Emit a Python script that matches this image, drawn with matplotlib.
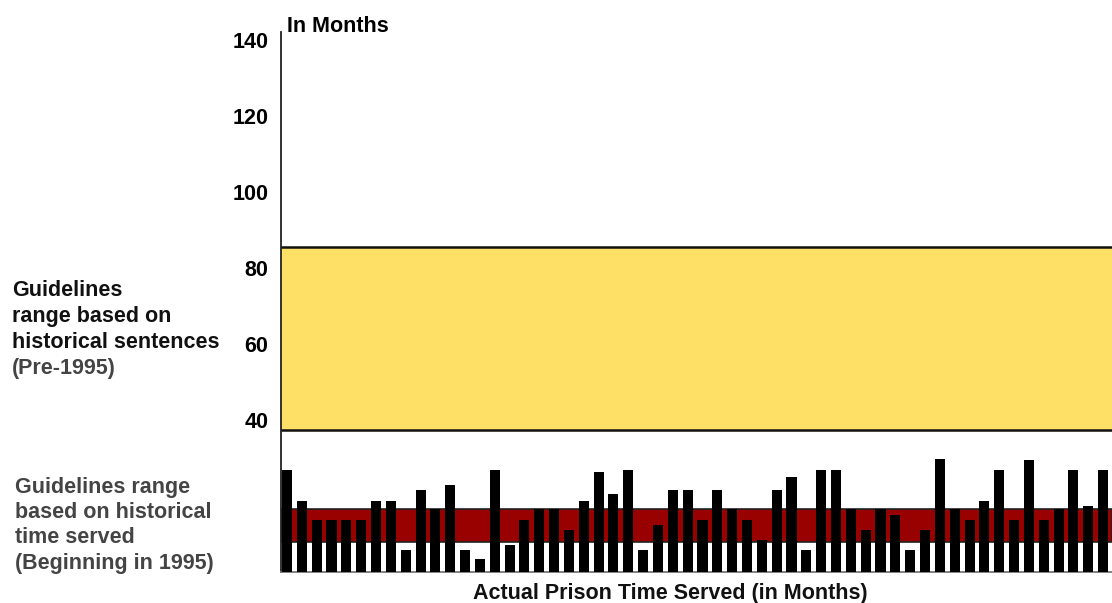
import numpy as np
import matplotlib.pyplot as plt

plt.rcParams['font.family'] = ['Liberation Sans', 'DejaVu Sans']

# time served per case (months)
served = [26.8, 18.8, 13.7, 13.7, 13.7, 13.7, 18.8, 18.8, 5.8, 21.6,
          16.6, 23.0, 5.8, 3.4, 26.8, 7.1, 13.7, 16.6, 16.6, 11.1,
          18.8, 26.4, 20.5, 26.8, 5.8, 12.4, 21.6, 21.6, 13.7, 21.6,
          16.6, 13.7, 8.4, 21.6, 25.1, 5.8, 26.8, 26.8, 16.6, 11.1,
          16.6, 15.0, 5.8, 11.1, 29.8, 16.6, 13.7, 18.8, 26.8, 13.7,
          29.5, 13.7, 16.6, 26.8, 17.4, 26.8]
sentence_range = [37.4, 85.5]   # pre-1995 guidelines
served_range = [7.9, 16.6]      # from 1995
yticks = [40, 60, 80, 100, 120, 140]
label_pre = ['Guidelines', 'range based on', 'historical sentences', '(Pre-1995)']
label_post = ['Guidelines range', 'based on historical', 'time served', '(Beginning in 1995)']

W, H = 1112, 603
fig = plt.figure(figsize=(W/100, H/100), dpi=100)
ax = fig.add_axes([281/W, 31/H, 831/W, (142*3.8)/H])

ax.axhspan(sentence_range[0], sentence_range[1], color='#FFE066', zorder=1)
ax.axhline(sentence_range[0], color='#111111', lw=1.8, zorder=2)
ax.axhline(sentence_range[1], color='#111111', lw=1.8, zorder=2)
ax.axhspan(served_range[0], served_range[1], facecolor='#990000',
           edgecolor='#222222', lw=1.2, zorder=1)

x = np.arange(len(served))
ax.bar(x, served, width=0.68, color='black', lw=0, zorder=3)

ax.set_xlim(-0.405, 55.6)
ax.set_ylim(0, 142)
ax.set_yticks(yticks)
ax.set_yticklabels([str(t) for t in yticks], fontsize=15.5, fontweight='bold')
ax.tick_params(axis='y', length=0, pad=9)
ax.set_xticks([])
for s in ['top', 'right']:
    ax.spines[s].set_visible(False)
ax.spines['left'].set_color('#222222')
ax.spines['left'].set_linewidth(1.3)
ax.spines['bottom'].set_color('#777777')
ax.spines['bottom'].set_linewidth(1.3)

fig.text(287/W, 1 - 26/H, 'In Months', fontsize=15.5, fontweight='bold',
         va='center', ha='left')
fig.text(670/W, 1 - 593/H, 'Actual Prison Time Served (in Months)',
         fontsize=15.5, fontweight='bold', va='center', ha='center', color='#111111')

# left side notes, one line at a time
for i, line in enumerate(label_pre):
    c = '#444444' if i == 3 else '#111111'
    fig.text(12/W, 1 - (296.5 + 25.7*i)/H, line, fontsize=15.5,
             fontweight='bold', va='baseline', ha='left', color=c)
for i, line in enumerate(label_post):
    fig.text(15/W, 1 - (493 + 25.2*i)/H, line, fontsize=15.5,
             fontweight='bold', va='baseline', ha='left', color='#444444')

fig.savefig('out.png', dpi=100)
